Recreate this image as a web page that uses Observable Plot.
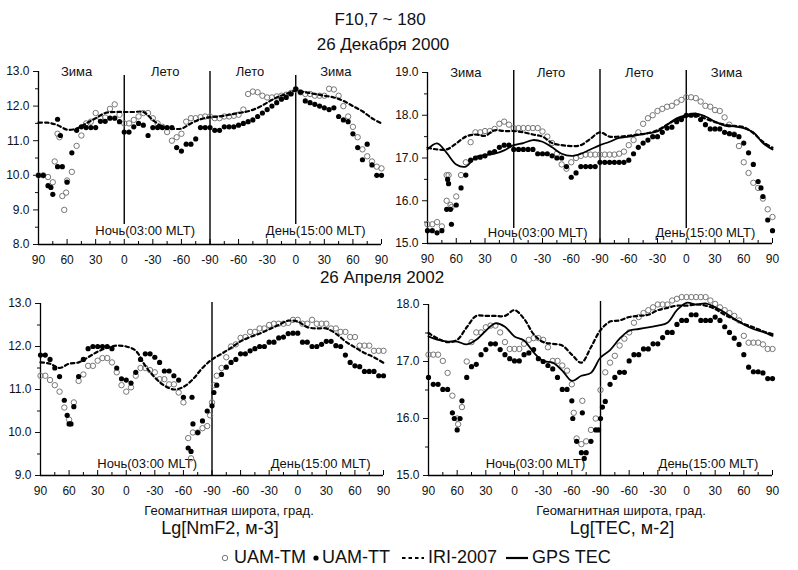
<!DOCTYPE html>
<html><head><meta charset="utf-8">
<script src="https://cdn.jsdelivr.net/npm/d3@7"></script>
<script src="https://cdn.jsdelivr.net/npm/@observablehq/plot@0.6"></script>
<style>
body{margin:0;background:#fff;font-family:"Liberation Sans",Arial,sans-serif;color:#111}
#wrap{position:relative;width:798px;height:570px;overflow:hidden;background:#fff}
.t{position:absolute;white-space:nowrap;transform:translate(-50%,-50%);line-height:1}
.p{position:absolute}
#legend{position:absolute;left:220px;top:547px;display:flex;align-items:center;font-size:18px;line-height:20px;white-space:nowrap}
#legend svg{display:block}
</style></head><body><div id="wrap"></div>
<script>
// ---------- tick labels / categories ----------
const xTicks = [0,30,60,90,120,150,180,210,240,270,300,330,360];
const xMinor = [15,45,75,105,135,165,195,225,255,285,315,345];
const xTickLabels = ["90","60","30","0","-30","-60","-90","-60","-30","0","30","60","90"];
const seasonNames = ["Зима","Лето","Лето","Зима"];
const sideNames = ["Ночь(03:00 MLT)","День(15:00 MLT)"];
const seriesNames = ["UAM-TM","UAM-TT","IRI-2007","GPS TEC"];
const dotStep = 5;   // latitude-walk step of model points (deg)
const lineStep = 10; // step of IRI / GPS curves (deg)

// ---------- 26 Dec 2000, Lg NmF2 ----------
const tlTM = [10.0,10.0,9.95,9.8,11.2,9.4,9.85,10.1,10.85,11.15,11.5,11.55,11.8,11.65,11.67,11.92,12.05,11.75,11.5,11.5,11.6,11.7,11.8,11.8,11.65,11.5,11.4,11.25,11.0,11.1,11.2,11.55,11.65,11.65,11.68,11.7,11.7,
  11.65,11.65,11.7,11.7,11.72,11.75,11.9,12.35,12.42,12.4,12.3,12.25,12.25,12.28,12.3,12.33,12.38,12.48,12.4,12.35,12.35,12.3,12.3,12.3,12.5,12.48,12.3,12.0,11.7,11.4,11.1,10.75,10.55,10.4,10.25,10.2];
const tlTMextra = [[17,10.4],[22,11.1],[27,9.0],[29,9.5]];
const tlTT = [10.0,10.0,9.7,9.45,10.25,10.25,9.8,10.65,11.3,11.4,11.38,11.38,11.38,11.56,11.56,11.65,11.65,11.55,11.25,11.25,11.4,11.5,11.45,11.15,11.38,11.38,11.38,11.38,11.38,10.8,10.7,10.9,10.9,11.05,11.38,11.38,11.38,
  11.3,11.3,11.4,11.4,11.4,11.45,11.5,11.55,11.6,11.7,11.8,11.9,12.0,12.1,12.2,12.25,12.35,12.5,12.4,12.15,12.1,12.05,12.0,11.95,11.9,11.95,11.7,11.6,11.55,11.2,10.8,10.45,10.9,10.3,10.0,10.0];
const tlTTextra = [[20,11.62],[23,11.15],[13,9.65]];
const tlIRI = [11.52,11.52,11.45,11.32,11.35,11.5,11.65,11.8,11.83,11.83,11.83,11.83,11.6,11.4,11.35,11.35,11.5,11.62,11.68,
  11.7,11.75,11.8,11.85,11.95,12.1,12.25,12.35,12.45,12.4,12.35,12.3,12.25,12.15,12.0,11.85,11.65,11.5];

// ---------- 26 Dec 2000, Lg TEC ----------
const trTM = [15.45,15.45,15.5,15.4,16.0,15.85,16.1,16.6,16.9,17.37,17.6,17.6,17.63,17.63,17.68,17.8,17.85,17.78,17.7,17.7,17.7,17.7,17.7,17.7,17.62,17.5,17.35,17.1,16.85,16.75,16.9,17.0,17.05,17.08,17.08,17.08,17.08,
  17.08,17.08,17.08,17.1,17.15,17.3,17.42,17.6,17.8,17.93,18.0,18.1,18.15,18.2,18.22,18.3,18.36,18.42,18.42,18.4,18.32,18.22,18.2,18.12,18.1,17.95,17.78,17.55,17.28,16.9,16.65,16.42,16.3,16.05,15.8,15.62];
const trTMextra = [[20,16.6],[22,16.6],[24,15.9]];
const trTT = [15.3,15.3,15.25,15.3,15.8,15.45,15.9,16.3,16.6,16.95,17.0,17.02,17.05,17.12,17.15,17.25,17.3,17.3,17.2,17.2,17.2,17.2,17.2,17.1,17.1,17.1,17.05,17.0,17.0,16.8,16.55,16.65,16.8,16.8,16.8,16.8,16.9,
  16.9,16.9,16.9,16.9,16.9,16.95,17.1,17.25,17.35,17.42,17.5,17.5,17.6,17.7,17.72,17.85,17.9,18.0,18.0,18.0,17.9,17.78,17.68,17.68,17.68,17.6,17.57,17.55,17.5,17.35,17.12,16.85,16.45,16.1,15.55,15.3];
const trTTextra = [[21,16.5],[22,16.4],[24,15.8],[348,16.3]];
const trIRI = [17.24,17.2,17.2,17.34,17.5,17.55,17.52,17.65,17.63,17.63,17.6,17.55,17.5,17.35,17.3,17.28,17.3,17.45,17.6,
  17.5,17.5,17.52,17.55,17.58,17.65,17.78,17.9,17.97,18.0,17.92,17.84,17.78,17.75,17.72,17.58,17.38,17.24];
const trGPS = [17.2,17.34,17.12,16.85,16.8,17.02,17.07,17.1,17.18,17.3,17.35,17.42,17.38,17.25,17.1,17.05,17.1,17.2,17.3,
  17.38,17.47,17.5,17.54,17.58,17.62,17.78,17.93,18.0,18.04,17.97,17.85,17.76,17.74,17.7,17.6,17.35,17.2];

// ---------- 26 Apr 2002, Lg NmF2 ----------
const blTM = [11.32,11.32,11.22,11.1,10.95,10.58,10.3,10.7,11.2,11.35,11.55,11.55,11.67,11.73,11.73,11.63,11.4,11.1,10.95,11.05,11.32,11.5,11.5,11.45,11.4,11.24,11.24,11.12,11.12,10.93,10.7,9.87,10.0,10.0,10.1,10.15,10.7,
  11.32,11.5,11.75,12.0,12.05,12.2,12.22,12.34,12.34,12.42,12.42,12.5,12.53,12.53,12.53,12.55,12.62,12.62,12.53,12.53,12.62,12.53,12.53,12.53,12.42,12.42,12.34,12.34,12.22,12.22,12.02,12.02,12.02,11.9,11.9,11.9];
const blTMextra = [[158,9.4],[182,11.1],[178,10.4]];
const blTT = [11.8,11.8,11.7,11.5,11.3,10.75,10.2,10.6,11.3,11.7,11.95,12.0,12.0,12.0,12.0,11.95,11.5,11.25,11.22,11.15,11.4,11.7,11.83,11.83,11.75,11.63,11.43,11.43,11.32,11.22,10.82,9.64,10.2,10.0,10.27,10.5,10.62,
  11.1,11.35,11.52,11.63,11.7,11.83,11.83,11.9,11.95,12.0,12.0,12.1,12.1,12.2,12.22,12.3,12.31,12.31,12.1,12.1,12.0,12.0,12.05,12.12,12.12,12.02,12.0,11.8,11.63,11.55,11.53,11.42,11.42,11.42,11.32,11.32];
const blTTextra = [[158,9.56],[159,10.82],[28,10.4],[32,10.2],[182,10.93]];
const blIRI = [11.63,11.6,11.5,11.6,11.63,11.75,11.88,11.97,12.02,12.0,11.9,11.55,11.28,11.09,11.0,11.06,11.24,11.5,11.7,
  11.83,11.97,12.12,12.22,12.3,12.4,12.5,12.6,12.58,12.45,12.42,12.42,12.3,12.12,11.98,11.85,11.75,11.62];

// ---------- 26 Apr 2002, Lg TEC ----------
const brTM = [17.12,17.12,17.12,17.01,16.8,16.4,16.0,16.2,17.0,17.34,17.51,17.51,17.6,17.63,17.63,17.51,17.34,17.22,17.22,17.22,17.31,17.38,17.41,17.41,17.38,17.25,17.01,17.01,16.93,16.84,16.6,15.65,15.55,15.6,15.8,16.0,16.5,
  16.81,16.98,17.1,17.28,17.4,17.51,17.68,17.78,17.85,17.9,17.95,18.0,18.0,18.0,18.07,18.1,18.13,18.13,18.13,18.13,18.13,18.13,18.07,18.01,17.95,17.9,17.85,17.8,17.72,17.45,17.33,17.33,17.33,17.3,17.22,17.22];
const brTMextra = [[161,16.31],[152,16.1],[31,15.9]];
const brTT = [16.72,16.6,16.6,16.51,16.51,16.1,15.8,16.31,16.72,16.91,16.95,17.12,17.21,17.31,17.31,17.21,17.12,17.05,17.01,17.01,17.12,17.15,17.21,17.05,17.0,16.93,16.87,16.72,16.51,16.51,16.31,15.6,15.4,15.4,15.6,15.8,16.0,
  16.3,16.6,16.72,16.81,16.81,17.01,17.12,17.12,17.22,17.22,17.31,17.31,17.42,17.51,17.51,17.65,17.72,17.72,17.82,17.82,17.72,17.72,17.72,17.78,17.72,17.61,17.51,17.41,17.3,17.12,16.9,16.82,16.82,16.8,16.7,16.7];
const brTTextra = [[27,16.0],[33,16.0],[151,16.0],[161,16.1],[163,15.3],[178,15.8],[182,16.2]];
const brIRI = [17.5,17.4,17.34,17.38,17.6,17.8,17.8,17.8,17.8,17.9,17.75,17.48,17.34,17.31,17.28,17.12,16.98,17.25,17.55,
  17.7,17.72,17.78,17.8,17.82,17.9,17.94,17.98,17.98,18.0,17.98,17.92,17.82,17.74,17.66,17.6,17.53,17.48];
const brGPS = [17.44,17.38,17.35,17.35,17.3,17.38,17.54,17.67,17.61,17.44,17.37,17.16,17.01,16.98,16.84,16.66,16.75,16.8,17.07,
  17.2,17.4,17.54,17.57,17.6,17.63,17.68,17.9,18.03,18.0,18.02,17.95,17.86,17.75,17.65,17.57,17.52,17.45];

// ---------- drawing ----------
const wrap = document.getElementById("wrap");
const FONT = "Liberation Sans, Arial, sans-serif";
const DASH = "3.5,3";

function addText(txt, cx, cy, size) {
  const d = document.createElement("div");
  d.className = "t"; d.textContent = txt;
  d.style.left = cx + "px"; d.style.top = cy + "px"; d.style.fontSize = size + "px";
  wrap.appendChild(d);
}

function panel(cfg) {
  const W = 395, H = 215;
  const {ml, mr, mt, mb, yDomain} = cfg;
  const innerH = H - mt - mb;
  const toDots = (vals, extra) => vals.map((v, i) => ({s: i * dotStep, v}))
    .concat((extra || []).map(([s, v]) => ({s, v})));
  const toLine = vals => vals.map((v, i) => ({s: i * lineStep, v}));
  const yMaj = d3.range(yDomain[0], yDomain[1] + 0.001, 1);
  const yMin = d3.range(yDomain[0] + 0.5, yDomain[1], 1);
  const marks = [
    Plot.axisY(yMaj, {tickSize: 5, tickPadding: 4, tickFormat: d3.format(".1f"), fontSize: 12, label: null}),
    Plot.axisY(yMin, {tickSize: 3, tickFormat: () => "", label: null}),
    Plot.axisX(xTicks, {tickSize: 0, tickPadding: 11, tickFormat: d => xTickLabels[xTicks.indexOf(d)], fontSize: 12, label: null}),
    Plot.tickX(xTicks, {x: d => d, insetTop: innerH - 5, stroke: "#000"}),
    Plot.tickX(xMinor, {x: d => d, insetTop: innerH - 3, stroke: "#000"}),
    Plot.ruleX([0], {stroke: "#000", strokeWidth: 1.3}),
    Plot.ruleY([yDomain[0]], {stroke: "#000", strokeWidth: 1.3}),
    Plot.ruleX([180], {stroke: "#000", strokeWidth: 1.4, insetTop: cfg.midTop || 0})
  ];
  if (cfg.dayNight) {
    marks.push(Plot.ruleX([90, 270], {stroke: "#000", strokeWidth: 1.4, insetTop: cfg.dayNight[0], insetBottom: cfg.dayNight[1]}));
  }
  if (cfg.seasonsX) {
    marks.push(Plot.text(cfg.seasonsX, {x: d => d, text: (d, i) => seasonNames[i], frameAnchor: "top", lineAnchor: "middle", fontSize: 13, fill: "#111"}));
  }
  marks.push(Plot.text(cfg.sideX, {x: d => d, text: (d, i) => sideNames[i], frameAnchor: "bottom", lineAnchor: "middle", dy: cfg.sideDy, fontSize: 13, fill: "#111"}));
  marks.push(Plot.dot(toDots(cfg.tm, cfg.tmX), {x: "s", y: "v", r: 2.7, stroke: "#777", strokeWidth: 1, fill: "none"}));
  marks.push(Plot.dot(toDots(cfg.tt, cfg.ttX), {x: "s", y: "v", r: 2.6, fill: "#000", stroke: "none"}));
  marks.push(Plot.line(toLine(cfg.iri), {x: "s", y: "v", stroke: "#000", strokeWidth: 2.2, strokeDasharray: DASH, curve: "catmull-rom"}));
  if (cfg.gps) marks.push(Plot.line(toLine(cfg.gps), {x: "s", y: "v", stroke: "#000", strokeWidth: 1.8, curve: "catmull-rom"}));

  const svg = Plot.plot({
    width: W, height: H,
    marginLeft: ml, marginRight: mr, marginTop: mt, marginBottom: mb,
    x: {domain: [0, 360], label: null},
    y: {domain: yDomain, label: null},
    style: {fontFamily: FONT, fontSize: "12px", color: "#111", background: "transparent", overflow: "visible"},
    marks
  });
  svg.classList.add("p");
  svg.style.left = cfg.left + "px";
  svg.style.top = cfg.top + "px";
  wrap.appendChild(svg);
}

panel({left: 0, top: 55, ml: 38, mr: 14, mt: 16, mb: 26, yDomain: [8, 13],
  tm: tlTM, tmX: tlTMextra, tt: tlTT, ttX: tlTTextra, iri: tlIRI,
  dayNight: [4, 20], seasonsX: [40, 133, 222, 312], sideX: [112, 291], sideDy: -14});
panel({left: 395, top: 55, ml: 32, mr: 18, mt: 17, mb: 27, yDomain: [15, 19],
  tm: trTM, tmX: trTMextra, tt: trTT, ttX: trTTextra, iri: trIRI, gps: trGPS, midTop: -3,
  dayNight: [-2, 15], seasonsX: [40, 129, 221, 312], sideX: [115, 290], sideDy: -11});
panel({left: 0, top: 285, ml: 40, mr: 12, mt: 18, mb: 25, yDomain: [9, 13],
  tm: blTM, tmX: blTMextra, tt: blTT, ttX: blTTextra, iri: blIRI, midTop: -1,
  sideX: [112, 294], sideDy: -12});
panel({left: 395, top: 285, ml: 33, mr: 18, mt: 19, mb: 25, yDomain: [15, 18],
  tm: brTM, tmX: brTMextra, tt: brTT, ttX: brTTextra, iri: brIRI, gps: brGPS, midTop: -3,
  sideX: [112, 293], sideDy: -12});

// titles and captions
addText("F10,7 ~ 180", 380, 19, 17);
addText("26 Декабря 2000", 383, 44, 17);
addText("26 Апреля 2002", 382, 277, 17);
addText("Геомагнитная широта, град.", 229, 510, 13);
addText("Геомагнитная широта, град.", 621, 510, 13);
addText("Lg[NmF2, м-3]", 220, 528, 18);
addText("Lg[TEC, м-2]", 622, 528, 18);

// legend
const legend = document.createElement("div");
legend.id = "legend";
const NS = "http://www.w3.org/2000/svg";
function sym(kind) {
  const s = document.createElementNS(NS, "svg");
  const w = kind === "circle" || kind === "dot" ? 10 : 24;
  s.setAttribute("width", w); s.setAttribute("height", 12);
  let e;
  if (kind === "circle") { e = document.createElementNS(NS, "circle"); e.setAttribute("cx", 5); e.setAttribute("cy", 7); e.setAttribute("r", 2.7); e.setAttribute("fill", "none"); e.setAttribute("stroke", "#777"); }
  else if (kind === "dot") { e = document.createElementNS(NS, "circle"); e.setAttribute("cx", 5); e.setAttribute("cy", 7); e.setAttribute("r", 2.6); e.setAttribute("fill", "#000"); }
  else { e = document.createElementNS(NS, "line"); e.setAttribute("x1", 1); e.setAttribute("x2", 23); e.setAttribute("y1", 7); e.setAttribute("y2", 7); e.setAttribute("stroke", "#000"); e.setAttribute("stroke-width", 2.2); if (kind === "dash") e.setAttribute("stroke-dasharray", DASH); }
  s.appendChild(e);
  return s;
}
const kinds = ["circle", "dot", "dash", "solid"];
const gapsBefore = [0, 5, 11, 8];
const gapsAfter = [4, 1, 3, 3];
seriesNames.forEach((name, i) => {
  const s = sym(kinds[i]);
  s.style.marginLeft = gapsBefore[i] + "px";
  s.style.marginRight = gapsAfter[i] + "px";
  legend.appendChild(s);
  const t = document.createElement("span");
  t.textContent = name;
  legend.appendChild(t);
});
wrap.appendChild(legend);
</script>
</body></html>
